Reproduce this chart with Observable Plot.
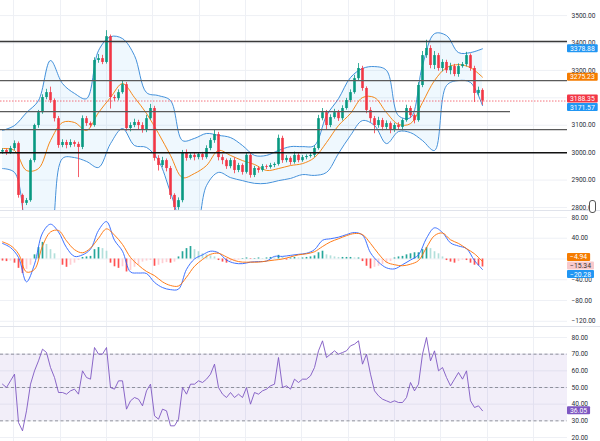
<!DOCTYPE html>
<html><head><meta charset="utf-8">
<script src="https://cdn.jsdelivr.net/npm/d3@7"></script>
<script src="https://cdn.jsdelivr.net/npm/@observablehq/plot@0.6"></script>
<style>
body{margin:0;background:#fff;overflow:hidden}
#wrap{position:relative;width:600px;height:441px;background:#fff}
.panel{position:absolute;left:0}
.sep{position:absolute;left:0;width:600px;height:1px;background:#e0e3eb}
#icon{position:absolute;left:589px;top:200px;width:5px;height:11px;border:1px solid #555;border-radius:3px;background:#fff}
</style>
</head><body><div id="wrap"></div>
<script>
// ---------- data ----------
const open0 = 3002;
const closes = [3008,3000,3015,3033,2844,2815,2825,2971,3099,3146,
 3201,3219,3190,3124,3026,3037,3026,3037,3030,3019,
 3124,3106,3099,3336,3343,3329,3423,3201,3197,3219,
 3248,3088,3099,3110,3099,3081,3124,3161,2979,2953,
 2971,2942,2844,2800,2825,3000,2979,2990,2982,2993,
 2982,3015,3044,3066,2982,2971,2949,2971,2935,2953,
 2928,2990,2917,2942,2935,2949,2946,2953,2957,3052,
 2971,2979,2964,2990,2971,2982,2986,2990,3015,3124,
 3146,3099,3128,3146,3124,3161,3190,3219,3270,3307,
 3234,3154,3124,3099,3117,3092,3106,3084,3099,3092,
 3117,3161,3135,3117,3245,3354,3380,3318,3354,3307,
 3329,3299,3314,3285,3314,3321,3354,3307,3216,3227,
 3188.35];
const upWick = [6,5,8,10,6,5,8,6,5,8,10,12,20,6,8,10,8,10,6,8,10,8,6,10,15,12,22,6,8,10,
 15,8,10,12,8,10,12,15,8,10,12,6,8,6,10,8,10,6,8,6,8,10,8,15,8,10,6,8,10,8,
 6,10,6,8,6,8,6,8,6,12,8,10,6,12,6,8,6,8,10,12,15,8,10,12,8,10,8,10,12,18,
 8,6,10,8,12,8,10,6,8,10,6,12,8,6,10,15,30,10,15,8,10,8,12,8,10,8,12,6,8,12,6];
const dnWick = [8,10,6,8,10,25,8,6,8,10,6,8,10,12,10,8,12,8,10,110,8,10,8,6,10,8,6,42,10,8,
 6,10,12,8,15,10,8,6,10,20,8,12,15,12,10,8,10,6,12,8,10,6,8,10,12,15,10,8,12,8,
 10,6,10,8,10,6,8,6,8,6,10,8,10,6,8,6,8,6,8,6,8,15,8,6,10,8,6,8,6,8,
 10,12,15,30,10,12,8,15,10,8,12,6,10,12,6,8,10,12,15,10,12,10,15,8,10,6,8,10,33,10,16];

// Bollinger bands, sampled every 3 bars
const bandIdx = d3.range(0, 121, 3);
const bbUpper = [3081,3099,3146,3190,3336,3252,3216,3197,3372,3423,3416,3354,3219,3208,3190,3044,3052,3070,3063,3055,
 3026,2990,2990,3008,3022,3022,3026,3135,3197,3274,3307,3314,3300,3135,3128,3318,3434,3427,3365,3365,3378.88];
const bbBasis = [3015,3008,2935,2942,3044,3110,3110,3081,3146,3201,3252,3201,3143,3070,2990,2909,2924,2953,3008,2990,
 2971,2957,2935,2942,2953,2960,2982,3037,3099,3143,3201,3201,3146,3103,3106,3183,3263,3310,3321,3310,3275.23];
const bbLower = [2942,2928,2716,2607,2680,2979,2982,2968,2946,3033,3088,3026,3019,2971,2855,2734,2698,2880,2928,2909,
 2898,2888,2888,2898,2906,2920,2917,2928,2997,3063,3117,3099,3033,3077,3073,3044,3008,3245,3263,3256,3171.57];

// MACD and signal, sampled every 2 bars
const macdIdx = d3.range(0, 121, 2);
const macdLine = [30,22,3,-44,-10,50,67,52,22,5,8,19,55,72,36,15,-25,-27,-28,-45,
 -55,-59,-58,-20,0,8,15,12,-2,-8,-9,-6,-5,-4,5,5,7,9,11,18,
 36,39,42,47,51,46,12,-6,-17,-19,-11,-2,8,40,60,51,31,25,20,-3,-20.28];
const signalLine = [33,26,10,-25,-20,25,52,55,35,18,12,21,40,58,46,28,3,-12,-24,-32,
 -44,-51,-52,-35,-14,-1,9,11,4,-3,-6,-6,-6,-4,-2,0,4,8,10,14,
 24,33,39,45,49,47,30,10,-6,-11,-13,-10,-3,22,45,50,37,30,20,10,-4.94];
const histogram = [-4,-5,-4,-8,-18,-28,-20,-12,8,22,
 32,28,18,10,0,-12,-16,-12,-8,-3,
 3,4,5,18,22,20,15,-8,-15,-18,
 -15,-25,-22,-16,-12,-6,-4,-3,-14,-12,
 -9,-7,-8,-6,4,14,20,24,18,14,
 10,8,6,4,-3,-6,-8,-5,-4,-2,
 1,2,-1,1,2,1,2,3,2,7,
 3,-2,2,3,2,2,3,4,6,12,
 15,8,6,4,3,3,3,3,2,2,
 -5,-14,-19,-16,-14,-11,-8,-5,2,4,
 5,8,10,12,12,18,22,20,14,10,
 4,-3,-6,-8,-5,-2,-3,-8,-12,-13,
 -15.34];
const rsi = [52,50,54,58,29,24,36,52,60,66,
 73,71,62,56,47,47,46,48,49,46,
 60,56,55,74,70,70,74,50,49,54,
 54,37,42,44,43,39,48,52,33,31,
 37,36,27,27,31,50,46,52,52,54,
 53,55,58,64,50,46,44,47,44,46,
 44,50,40,47,46,48,49,51,52,68,
 50,51,49,55,53,55,55,57,62,72,
 78,68,70,72,70,71,72,75,76,78,
 64,70,58,48,45,43,42,41,42,41,
 41,44,53,48,52,70,80,66,72,60,
 62,56,51,55,59,55,60,42,38,39,
 36.05];

// drawn horizontal levels and where they end (bar index)
const levels = [3405, 3263, 3150, 3084, 3000];
const levelEnd = [141.25, 141.25, 127, 141.25, 141.25];
// time grid (bar index)
const timeGrid = [2.75, 14.5, 26, 37.5, 49.25, 60.75, 74.75, 86.5, 98, 109.5, 121.25, 132.75];
const priceTicks = [3500, 3400, 3300, 3200, 3100, 3000, 2900, 2800];
const macdTicks = [80, 40, 0, -40, -80, -120];
const macdLabels = [80, 40, -40, -80, -120];
const rsiTicks = [80, 70, 60, 50, 40, 30, 20];
const rsiBands = [70, 50, 30];

// ---------- build ----------
const UP = "#089981", DOWN = "#f23645", GRID = "#eef0f5", BLUE = "#2f84d6", ORANGE = "#f57c00";
const fmt = d3.format(".2f");
const X = {domain: [-0.5, 141.25], axis: null};
const base = {width: 600, marginLeft: 0, marginRight: 33, marginTop: 0, marginBottom: 0,
  style: {fontFamily: "Roboto, 'DejaVu Sans', sans-serif", fontSize: "6.6px", color: "#2a2e39", background: "transparent", overflow: "visible"}};
const yAxis = ticks => ({axis: "right", ticks, tickFormat: fmt, tickSize: 0, tickPadding: 4, label: null});

const bars = closes.map((c, i) => {
  const o = i === 0 ? open0 : closes[i - 1];
  return {i, o, c, h: Math.max(o, c) + upWick[i], l: Math.min(o, c) - dnWick[i]};
});
const bb = bandIdx.map((i, k) => ({i, u: bbUpper[k], m: bbBasis[k], l: bbLower[k]}));
const lv = levels.map((p, k) => ({p, end: levelEnd[k]}));
const md = macdIdx.map((i, k) => ({i, m: macdLine[k], s: signalLine[k]}));
const hs = histogram.map((v, i) => ({i, v, prev: i ? histogram[i - 1] : v}));
const rs = rsi.map((v, i) => ({i, v}));
const candleColor = d => d.c >= d.o ? UP : DOWN;

const main = Plot.plot({...base, height: 210, x: X,
  y: {domain: [2789, 3555], ...yAxis(priceTicks)},
  marks: [
    Plot.ruleX(timeGrid, {stroke: GRID}),
    Plot.ruleY(priceTicks, {stroke: GRID}),
    Plot.areaY(bb, {x: "i", y1: "l", y2: "u", fill: "#2196f3", fillOpacity: 0.07, curve: "catmull-rom", clip: true}),
    Plot.lineY(bb, {x: "i", y: "u", stroke: BLUE, strokeWidth: 0.9, curve: "catmull-rom", clip: true}),
    Plot.lineY(bb, {x: "i", y: "l", stroke: BLUE, strokeWidth: 0.9, curve: "catmull-rom", clip: true}),
    Plot.lineY(bb, {x: "i", y: "m", stroke: ORANGE, strokeWidth: 0.9, curve: "catmull-rom", clip: true}),
    Plot.ruleY([closes[closes.length - 1]], {stroke: DOWN, strokeDasharray: "1.5,1.5", strokeWidth: 0.7}),
    Plot.ruleX(bars, {x: "i", y1: "l", y2: "h", stroke: candleColor, strokeWidth: 0.8, clip: true}),
    Plot.ruleX(bars, {x: "i", y1: "o", y2: "c", stroke: candleColor, strokeWidth: 2.6, clip: true}),
    Plot.ruleY(lv, {y: "p", x1: -0.5, x2: "end",
      stroke: d => d.p === 3000 ? "#111" : d.p === 3405 ? "#3a3a3a" : "#5a5a5a",
      strokeWidth: d => d.p === 3000 || d.p === 3405 ? 1.5 : 1.2})
  ]
});

const macdPlot = Plot.plot({...base, height: 116, x: X,
  y: {domain: [-130, 93.4], ...yAxis(macdLabels)},
  marks: [
    Plot.ruleX(timeGrid, {stroke: GRID}),
    Plot.ruleY(macdTicks, {stroke: GRID}),
    Plot.ruleX(hs, {x: "i", y1: 0, y2: "v", strokeWidth: 1.7,
      stroke: d => d.v >= 0 ? (d.v >= d.prev ? "#26a69a" : "#b2dfdb") : (d.v <= d.prev ? "#ff5252" : "#ffcdd2")}),
    Plot.lineY(md, {x: "i", y: "m", stroke: "#2962ff", strokeWidth: 0.9, curve: "catmull-rom"}),
    Plot.lineY(md, {x: "i", y: "s", stroke: "#ff6d00", strokeWidth: 0.9, curve: "catmull-rom"})
  ]
});

const rsiPlot = Plot.plot({...base, height: 115, x: X,
  y: {domain: [17.6, 86.6], ...yAxis(rsiTicks)},
  marks: [
    Plot.ruleX(timeGrid, {stroke: GRID}),
    Plot.ruleY(rsiTicks, {stroke: GRID}),
    Plot.rect([{a: 30, b: 70}], {x1: -0.5, x2: 141.25, y1: "a", y2: "b", fill: "#7e57c2", fillOpacity: 0.1}),
    Plot.ruleY(rsiBands, {stroke: "#787b86", strokeDasharray: "3,2.5", strokeWidth: 0.8}),
    Plot.lineY(rs, {x: "i", y: "v", stroke: "#7e57c2", strokeWidth: 0.9})
  ]
});

const wrap = document.getElementById("wrap");
[[main, 0], [macdPlot, 210], [rsiPlot, 326]].forEach(([p, top]) => {
  const d = document.createElement("div"); d.className = "panel"; d.style.top = top + "px";
  d.appendChild(p); wrap.appendChild(d);
});
[210, 326].forEach(t => { const s = document.createElement("div"); s.className = "sep"; s.style.top = t + "px"; wrap.appendChild(s); });
const icon = document.createElement("div"); icon.id = "icon"; wrap.appendChild(icon);

function tags(plot, items) {
  const y = plot.scale("y");
  const svg = d3.select(plot);
  const h = 8.6;
  const rows = items.map(d => ({...d, y: y.apply(d.v)})).sort((a, b) => a.y - b.y);
  let groups = rows.map(r => ({rows: [r], c: r.y}));
  let changed = true;
  while (changed) {
    changed = false;
    for (let k = 0; k < groups.length - 1; k++) {
      const a = groups[k], b = groups[k + 1];
      if (a.c + a.rows.length * h / 2 > b.c - b.rows.length * h / 2) {
        const all = a.rows.concat(b.rows);
        groups.splice(k, 2, {rows: all, c: d3.mean(all, r => r.y)});
        changed = true; break;
      }
    }
  }
  groups.forEach(g => g.rows.forEach((r, j) => r.py = g.c - g.rows.length * h / 2 + h / 2 + j * h));
  rows.forEach(r => {
    const g = svg.append("g");
    const rect = g.append("rect").attr("y", r.py - 4).attr("height", 8).attr("rx", 1).attr("fill", r.fill);
    const t = g.append("text").attr("y", r.py).attr("dy", "0.36em").attr("fill", r.ink || "#fff")
      .attr("text-anchor", "start").attr("font-size", 6.8).attr("font-family", "Roboto, sans-serif").text(fmt(r.v));
    let w = t.node().getComputedTextLength();
    if (!w) w = fmt(r.v).length * 3.9;
    rect.attr("x", 567).attr("width", w + 6);
    t.attr("x", 570);
  });
}
tags(main, [
  {v: bbUpper[bbUpper.length - 1], fill: "#2196f3"},
  {v: bbBasis[bbBasis.length - 1], fill: "#f57c00"},
  {v: closes[closes.length - 1], fill: "#f23645"},
  {v: bbLower[bbLower.length - 1], fill: "#2196f3"}
]);
tags(macdPlot, [
  {v: signalLine[signalLine.length - 1], fill: "#f57c00"},
  {v: histogram[histogram.length - 1], fill: "#f8c9cc", ink: "#333"},
  {v: macdLine[macdLine.length - 1], fill: "#2196f3"}
]);
tags(rsiPlot, [{v: rsi[rsi.length - 1], fill: "#7e57c2"}]);
</script></body></html>
